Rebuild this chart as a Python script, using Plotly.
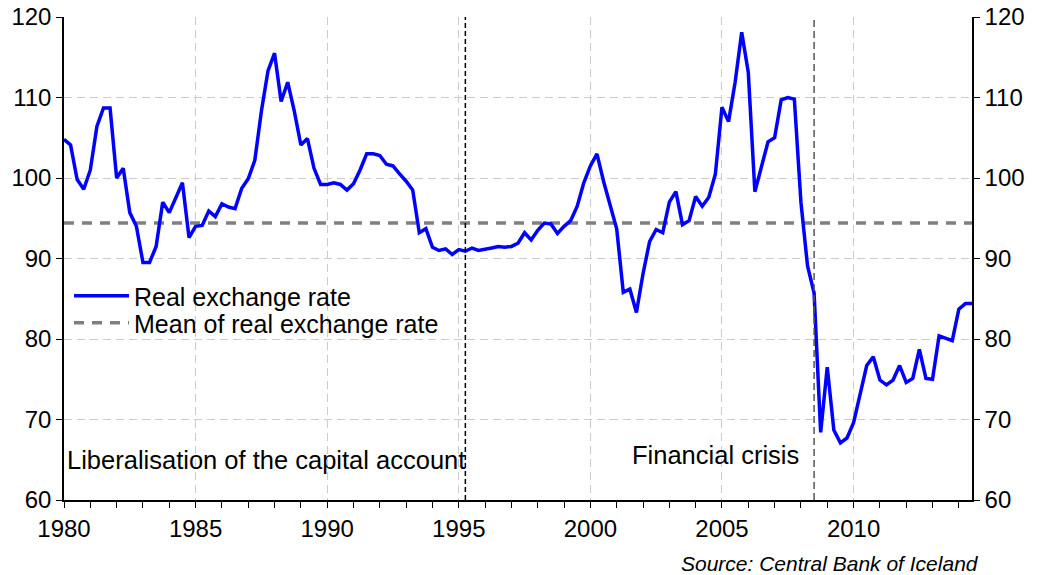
import plotly.graph_objects as go

START_YEAR = 1980
QUARTER_STEP = 0.25

real_exchange_rate = [
    104.8, 104.1, 99.8, 98.6, 101.0, 106.4, 108.7, 108.7,   # 1980-81
    100.0, 101.2, 95.7, 94.0, 89.5, 89.5, 91.5, 97.0,        # 1982-83
    95.7, 97.5, 99.4, 92.6, 94.0, 94.1, 95.9, 95.2,          # 1984-85
    96.8, 96.4, 96.2, 98.7, 99.9, 102.2, 108.3, 113.3,       # 1986-87
    115.5, 109.5, 111.9, 108.3, 104.1, 104.9, 101.2, 99.2,   # 1988-89
    99.2, 99.4, 99.2, 98.5, 99.3, 101.0, 103.0, 103.0,       # 1990-91
    102.8, 101.7, 101.5, 100.5, 99.6, 98.5, 93.2, 93.7,      # 1992-93
    91.4, 91.0, 91.2, 90.5, 91.1, 90.9, 91.3, 91.0,          # 1994-95
    91.1, 91.3, 91.5, 91.4, 91.5, 91.9, 93.2, 92.3,          # 1996-97
    93.5, 94.4, 94.3, 93.1, 94.0, 94.7, 96.5, 99.4,          # 1998-99
    101.5, 103.0, 99.6, 96.5, 93.7, 85.8, 86.2, 83.3,        # 2000-01
    88.1, 92.1, 93.6, 93.2, 97.0, 98.3, 94.2, 94.7,          # 2002-03
    97.7, 96.5, 97.6, 100.5, 108.8, 107.0, 111.9, 118.1,     # 2004-05
    113.1, 98.3, 101.3, 104.5, 105.0, 109.7, 110.0, 109.8,   # 2006-07
    97.0, 89.1, 85.7, 68.4, 76.5, 68.7, 67.1, 67.7,          # 2008-09
    69.6, 73.3, 76.7, 77.8, 74.9, 74.3, 74.9, 76.7,          # 2010-11
    74.6, 75.1, 78.7, 75.1, 75.0, 80.4, 80.1, 79.8,          # 2012-13
    83.7, 84.4, 84.4,                                        # 2014
]
mean_real_exchange_rate = 94.4

event_dates = [1995.25, 2008.5]
event_labels = ["Liberalisation of the capital account", "Financial crisis"]
event_label_pos = [(1980.05, 65.0, "left"), (2008.0, 65.6, "right")]

x_range = [1980, 2014.5]
y_range = [60, 120]
x_tick_vals = [1980, 1985, 1990, 1995, 2000, 2005, 2010]
y_tick_vals = [60, 70, 80, 90, 100, 110, 120]
y_grid_vals = [70, 80, 90, 100, 110]

dates = [START_YEAR + QUARTER_STEP * i for i in range(len(real_exchange_rate))]

FONT = "Liberation Sans, Arial, sans-serif"
PLOT_W = 1037 - 64 - 65
PLOT_H = 575 - 17 - 75

fig = go.Figure()
fig.add_trace(go.Scatter(
    x=x_range, y=[mean_real_exchange_rate] * 2, mode="lines",
    name="Mean of real exchange rate", legend="legend2",
    line=dict(color="#808080", width=3.5, dash="10px,8px"),
))
fig.add_trace(go.Scatter(
    x=dates, y=real_exchange_rate, mode="lines",
    name="Real exchange rate", legend="legend",
    line=dict(color="#0000FF", width=3.5),
))
# helper traces so the right-hand axis and grid axis render
fig.add_trace(go.Scatter(x=[dates[0]], y=[real_exchange_rate[0]], yaxis="y2",
                         mode="lines", showlegend=False, hoverinfo="skip",
                         line=dict(width=0)))
fig.add_trace(go.Scatter(x=[dates[0]], y=[real_exchange_rate[0]], yaxis="y3",
                         mode="lines", showlegend=False, hoverinfo="skip",
                         line=dict(width=0)))

for d, color, dash in zip(event_dates, ["#000000", "#555555"], ["5px,3px", "7px,4px"]):
    fig.add_shape(type="line", xref="x", yref="paper", x0=d, x1=d, y0=0, y1=1,
                  line=dict(color=color, width=1.5, dash=dash))

for label, (lx, ly, anchor) in zip(event_labels, event_label_pos):
    fig.add_annotation(x=lx, y=ly, xref="x", yref="y", text=label, showarrow=False,
                       xanchor=anchor, yanchor="middle",
                       font=dict(family=FONT, size=25.5, color="#000000"))

fig.add_annotation(x=1.0 + (981 - 972) / PLOT_W, y=-(563 - 500) / PLOT_H,
                   xref="paper", yref="paper", text="<i>Source: Central Bank of Iceland</i>",
                   showarrow=False, xanchor="right", yanchor="middle",
                   font=dict(family=FONT, size=21, color="#000000"))

axis_common = dict(showline=True, linecolor="#000000", linewidth=1.5, ticks="outside",
                   ticklen=6, tickcolor="#000000", automargin=False,
                   tickfont=dict(family=FONT, size=24, color="#000000"),
                   zeroline=False)

legend_common = dict(xanchor="left", yanchor="middle", bgcolor="rgba(255,255,255,0)",
                     itemwidth=55, font=dict(family=FONT, size=25, color="#000000"))

fig.update_layout(
    width=1037, height=575,
    margin=dict(l=64, r=65, t=17, b=75, autoexpand=False),
    paper_bgcolor="white", plot_bgcolor="white",
    showlegend=True,
    legend=dict(x=(69 - 64) / PLOT_W, y=(500 - 296) / PLOT_H, **legend_common),
    legend2=dict(x=(69 - 64) / PLOT_W, y=(500 - 323) / PLOT_H, **legend_common),
    xaxis=dict(range=x_range, tickvals=x_tick_vals, showgrid=True, gridcolor="#cccccc",
               griddash="8px,5px", gridwidth=1,
               minor=dict(dtick=1, tick0=1980, ticks="outside", ticklen=6,
                          tickcolor="#000000", showgrid=False),
               **axis_common),
    yaxis=dict(range=y_range, tickvals=y_tick_vals, showgrid=False, **axis_common),
    yaxis2=dict(range=y_range, tickvals=y_tick_vals, overlaying="y", side="right",
                showgrid=False, **axis_common),
    yaxis3=dict(range=y_range, tickvals=y_grid_vals, overlaying="y", side="left",
                showgrid=True, gridcolor="#cccccc", griddash="8px,5px", gridwidth=1,
                showticklabels=False, ticks="", showline=False, zeroline=False,
                automargin=False, layer="below traces"),
)

fig.write_html("out.html", config={"displayModeBar": False},
               post_script="document.body.style.margin='0';")
